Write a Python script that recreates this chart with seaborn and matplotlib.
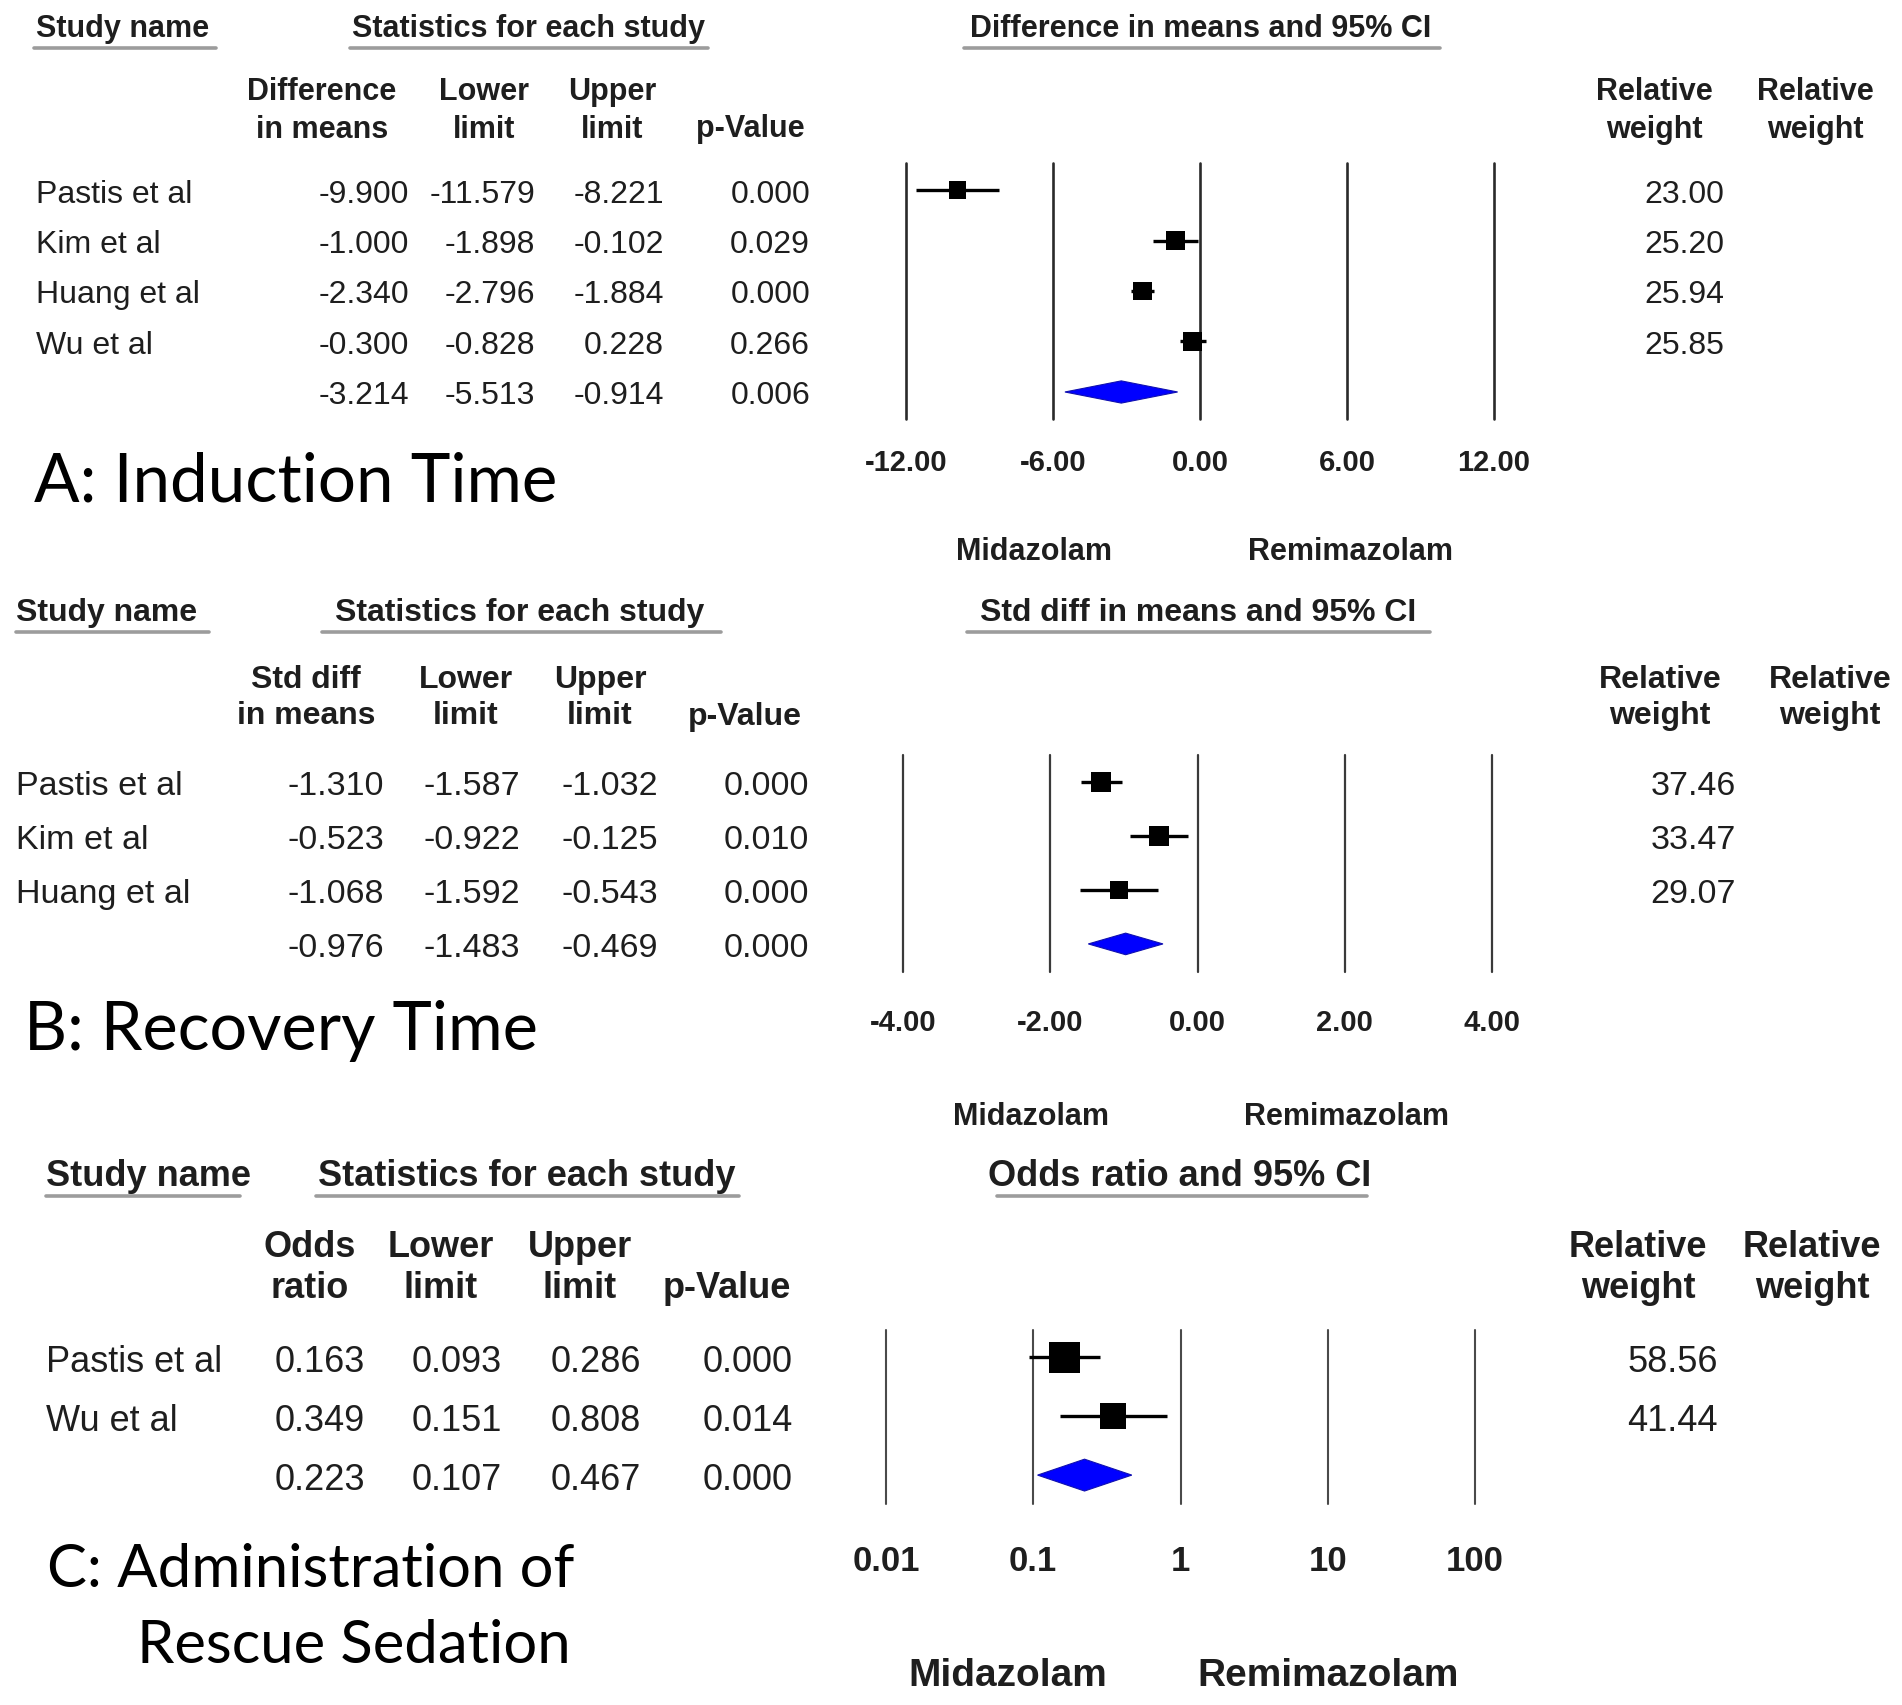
import numpy as np
import pandas as pd
import matplotlib
matplotlib.use("Agg")
import matplotlib.pyplot as plt
from matplotlib.transforms import blended_transform_factory
from matplotlib.lines import Line2D
import seaborn as sns

# ---- Panel A: induction time (difference in means) ----
a_studies = ["Pastis et al", "Kim et al", "Huang et al", "Wu et al"]
a_est = [-9.900, -1.000, -2.340, -0.300]
a_low = [-11.579, -1.898, -2.796, -0.828]
a_up = [-8.221, -0.102, -1.884, 0.228]
a_p = [0.000, 0.029, 0.000, 0.266]
a_weight = [23.00, 25.20, 25.94, 25.85]
a_summary = [-3.214, -5.513, -0.914, 0.006]
a_ticks = [-12, -6, 0, 6, 12]
a_ticklabels = ["-12.00", "-6.00", "0.00", "6.00", "12.00"]

# ---- Panel B: recovery time (std diff in means) ----
b_studies = ["Pastis et al", "Kim et al", "Huang et al"]
b_est = [-1.310, -0.523, -1.068]
b_low = [-1.587, -0.922, -1.592]
b_up = [-1.032, -0.125, -0.543]
b_p = [0.000, 0.010, 0.000]
b_weight = [37.46, 33.47, 29.07]
b_summary = [-0.976, -1.483, -0.469, 0.000]
b_ticks = [-4, -2, 0, 2, 4]
b_ticklabels = ["-4.00", "-2.00", "0.00", "2.00", "4.00"]

# ---- Panel C: rescue sedation (odds ratio) ----
c_studies = ["Pastis et al", "Wu et al"]
c_est = [0.163, 0.349]
c_low = [0.093, 0.151]
c_up = [0.286, 0.808]
c_p = [0.000, 0.014]
c_weight = [58.56, 41.44]
c_summary = [0.223, 0.107, 0.467, 0.000]
c_ticks = [0.01, 0.1, 1, 10, 100]
c_ticklabels = ["0.01", "0.1", "1", "10", "100"]

W, H = 1902, 1706
sns.set_theme(style="white")
plt.rcParams["font.family"] = ["Liberation Sans", "DejaVu Sans"]
TXT = "#1e1e1e"
GREY = "#9c9c9c"

fig = plt.figure(figsize=(W / 100, H / 100), dpi=100)


def fx(px):
    return px / W


def fy(py):
    return 1 - py / H


def underline(x0, x1, y):
    fig.add_artist(Line2D([fx(x0), fx(x1)], [fy(y), fy(y)], color=GREY, lw=2.6,
                          transform=fig.transFigure))


def panel(studies, est, low, up, pv, weight, summary, ticks, ticklabels, lay):
    n = len(studies)
    x0, x1, y0, y1 = lay["box"]
    ax = fig.add_axes([fx(x0), fy(y1), fx(x1) - fx(x0), (y1 - y0) / H])
    fs, hfs = lay["fs"], lay["hfs"]

    # headers
    for txt, xc, x_a, x_b, ha in lay["heads"]:
        fig.text(fx(xc), fy(lay["head_y"]), txt, ha=ha, va="center",
                 fontsize=hfs, fontweight="bold", color=TXT)
        underline(x_a, x_b, lay["head_y"] + lay["ul_gap"])
    for txt, xc in zip(lay["col_heads"], lay["col_x"]):
        yy = lay["ch_y"] if "\n" in txt else lay["ch_y2"]
        fig.text(fx(xc), fy(yy), txt, ha="center", va="center", ma="center",
                 fontsize=hfs, fontweight="bold", color=TXT, linespacing=lay["ls"])

    # forest plot
    rows = np.arange(n)
    df = pd.DataFrame({"est": est, "row": rows, "weight": weight})
    for t in ticks:
        ax.axvline(t, color=lay["vcol"], lw=lay["vlw"], clip_on=False, zorder=1)
    ax.hlines(rows, low, up, color="black", lw=2.4, zorder=2)
    sns.scatterplot(data=df, x="est", y="row", size="weight",
                    sizes={w: lay["k"] * w for w in weight}, marker="s",
                    color="black", edgecolor="black", linewidth=0,
                    legend=False, ax=ax, zorder=3)
    s_est, s_lo, s_hi, s_p = summary
    hh = lay["dh"]
    ax.fill([s_lo, s_est, s_hi, s_est], [n, n - hh, n, n + hh],
            facecolor="#0000ff", edgecolor="#1010b0", lw=0.8, zorder=3)

    if lay.get("log"):
        ax.set_xscale("log")
    ax.set_xlim(ticks[0], ticks[-1])
    ax.set_ylim(n + lay["pad_b"], -lay["pad_t"])
    ax.set_xticks(ticks)
    ax.set_xticklabels(ticklabels, fontsize=lay["tfs"], fontweight="bold", color=TXT)
    ax.minorticks_off()
    ax.tick_params(axis="x", length=0, pad=lay["tpad"])
    ax.set_yticks([])
    ax.set_xlabel("")
    ax.set_ylabel("")
    ax.set_facecolor("none")
    for sp in ax.spines.values():
        sp.set_visible(False)

    # table text on the same rows as the forest plot
    tr = blended_transform_factory(fig.transFigure, ax.transData)
    cols = lay["val_x"]
    for i in range(n):
        ax.text(fx(lay["name_x"]), i, studies[i], transform=tr, ha="left",
                va="center_baseline", fontsize=fs, color=TXT)
        for v, xr in zip([est[i], low[i], up[i], pv[i]], cols):
            ax.text(fx(xr), i, f"{v:.3f}", transform=tr, ha="right",
                    va="center_baseline", fontsize=fs, color=TXT)
        ax.text(fx(lay["w_x"]), i, f"{weight[i]:.2f}", transform=tr, ha="right",
                va="center_baseline", fontsize=fs, color=TXT)
    for v, xr in zip(summary, cols):
        ax.text(fx(xr), n, f"{v:.3f}", transform=tr, ha="right",
                va="center_baseline", fontsize=fs, color=TXT)

    # drug labels under the axis
    for txt, xc in zip(["Midazolam", "Remimazolam"], lay["drug_x"]):
        fig.text(fx(xc), fy(lay["drug_y"]), txt, ha="center", va="center",
                 fontsize=lay["dfs"], fontweight="bold", color=TXT)
    return ax


panel(a_studies, a_est, a_low, a_up, a_p, a_weight, a_summary, a_ticks, a_ticklabels,
      dict(box=(906, 1494, 164, 420), fs=23, hfs=22, tfs=21, tpad=21, dfs=22,
           head_y=29, ul_gap=20, ls=1.32,
           heads=[("Study name", 36, 34, 216, "left"),
                  ("Statistics for each study", 529, 350, 708, "center"),
                  ("Difference in means and 95% CI", 1201, 964, 1440, "center")],
           col_heads=["Difference\nin means", "Lower\nlimit", "Upper\nlimit", "p-Value",
                      "Relative\nweight", "Relative\nweight"],
           col_x=[322, 484, 612, 750, 1654, 1815], ch_y=111, ch_y2=129,
           name_x=36, val_x=[409, 535, 664, 810], w_x=1724,
           vcol="#2a2a2a", vlw=1.9, k=7.0, dh=0.22, pad_t=0.535, pad_b=0.535,
           drug_x=[1034, 1350], drug_y=552))

panel(b_studies, b_est, b_low, b_up, b_p, b_weight, b_summary, b_ticks, b_ticklabels,
      dict(box=(903, 1492, 756, 973), fs=24.5, hfs=23, tfs=21, tpad=26, dfs=22,
           head_y=613, ul_gap=20, ls=1.3,
           heads=[("Study name", 16, 16, 209, "left"),
                  ("Statistics for each study", 520, 322, 721, "center"),
                  ("Std diff in means and 95% CI", 1198, 967, 1430, "center")],
           col_heads=["Std diff\nin means", "Lower\nlimit", "Upper\nlimit", "p-Value",
                      "Relative\nweight", "Relative\nweight"],
           col_x=[306, 466, 600, 745, 1660, 1830], ch_y=698, ch_y2=717,
           name_x=16, val_x=[384, 520, 658, 809], w_x=1736,
           vcol="#3a3a3a", vlw=1.6, k=6.0, dh=0.2, pad_t=0.5, pad_b=0.52,
           drug_x=[1031, 1347], drug_y=1117))

panel(c_studies, c_est, c_low, c_up, c_p, c_weight, c_summary, c_ticks, c_ticklabels,
      dict(box=(886, 1475, 1331, 1505), fs=26, hfs=26, tfs=25, tpad=29, dfs=28,
           head_y=1176, ul_gap=21, ls=1.2, log=True,
           heads=[("Study name", 46, 46, 240, "left"),
                  ("Statistics for each study", 527, 316, 739, "center"),
                  ("Odds ratio and 95% CI", 1180, 997, 1367, "center")],
           col_heads=["Odds\nratio", "Lower\nlimit", "Upper\nlimit", "p-Value",
                      "Relative\nweight", "Relative\nweight"],
           col_x=[310, 441, 580, 727, 1638, 1812], ch_y=1268, ch_y2=1289,
           name_x=46, val_x=[365, 502, 641, 793], w_x=1718,
           vcol="#4a4a4a", vlw=1.5, k=8.5, dh=0.27, pad_t=0.46, pad_b=0.49,
           drug_x=[1008, 1328], drug_y=1676))

# panel titles
title_kw = dict(family=["Lato", "DejaVu Sans"], color="black", va="center")
fig.text(fx(34), fy(483), "A: Induction Time", ha="left", fontsize=48.5, **title_kw)
fig.text(fx(24), fy(1031), "B: Recovery Time", ha="left", fontsize=48, **title_kw)
fig.text(fx(574), fy(1570), "C: Administration of", ha="right", fontsize=43, **title_kw)
fig.text(fx(571), fy(1646), "Rescue Sedation", ha="right", fontsize=43, **title_kw)

fig.savefig("out.png", dpi=100, facecolor="white")
